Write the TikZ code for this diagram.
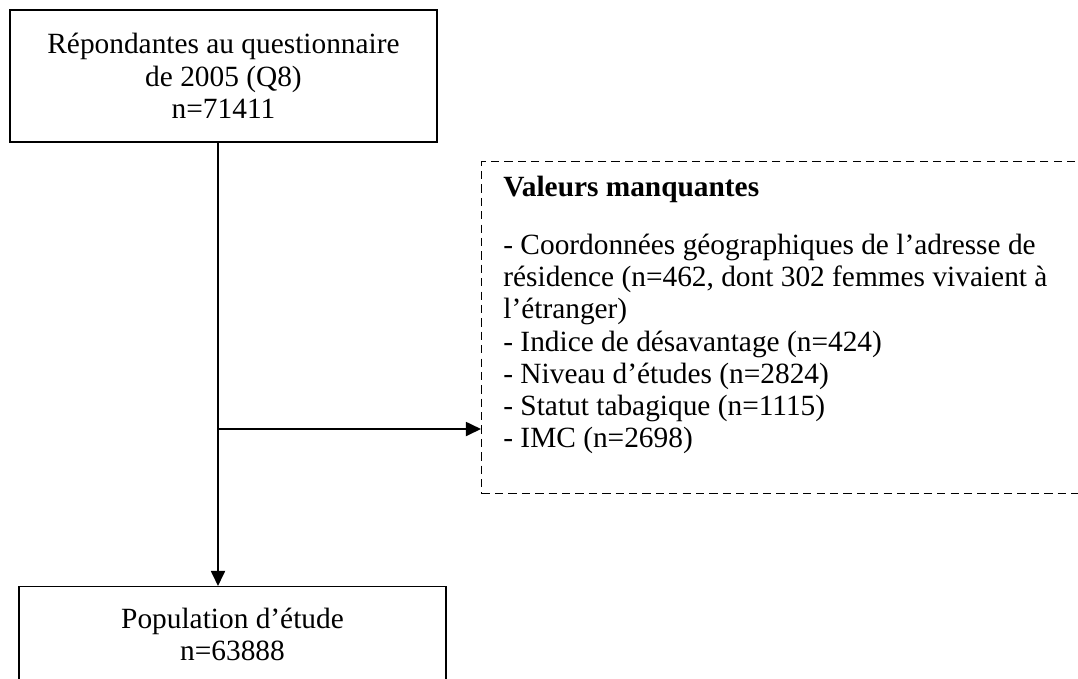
\documentclass[tikz,border=0pt]{standalone}
\usepackage{fontspec}
\setmainfont{Liberation Serif}
\usetikzlibrary{arrows.meta, positioning, calc}
\newdimen\pxu \pxu=0.545pt

\begin{document}
\begin{tikzpicture}[
    x=0.545pt, y=-0.545pt,
    every node/.style={font=\fontsize{16pt}{17.6pt}\selectfont}, % Times-like text
    box/.style={draw=black, line width=0.8pt, minimum width=427\pxu,
        minimum height=132\pxu, align=center, inner sep=0pt}, % plain boxes
    dashbox/.style={draw=black, line width=0.75pt, dash pattern=on 4.5pt off 2.8pt,
        minimum width=700\pxu, minimum height=332\pxu, inner sep=0pt}, % dashed frame
    listtext/.style={align=left, inner sep=0pt}, % list inside the frame
    flow/.style={line width=1.1pt, -{Triangle[length=8.2pt, width=7.6pt]}} % arrows
]
    % 0. page frame (boxes run past the edges)
    \path[use as bounding box, clip] (0,0) rectangle (1078,678);

    % 1. boxes
    \node[box] (resp) at (223.5,76) {Répondantes au questionnaire\\de 2005 (Q8)\\n=71411};
    \node[box, minimum height=96\pxu, anchor=north] (pop) at (232.5,586) {Population d’étude\\n=63888};

    % 2. dashed frame with missing values
    \node[dashbox, anchor=north west] (missing) at (481,161) {};
    \node[listtext, anchor=north west] (misstext) at ([xshift=22\pxu, yshift=-14.5\pxu]missing.north west) {%
        \textbf{Valeurs manquantes}\\[14pt]
        - Coordonnées géographiques de l’adresse de\\
        résidence (n=462, dont 302 femmes vivaient à\\
        l’étranger)\\
        - Indice de désavantage (n=424)\\
        - Niveau d’études (n=2824)\\
        - Statut tabagique (n=1115)\\
        - IMC (n=2698)};

    % 3. connectors
    \coordinate (spine) at ([xshift=-5.5\pxu]resp.south);
    \coordinate (fork) at (218,429);
    \draw[flow] (spine) -- (spine |- pop.north);
    \draw[flow] (fork) -- (fork -| missing.west);

\end{tikzpicture}
\end{document}
